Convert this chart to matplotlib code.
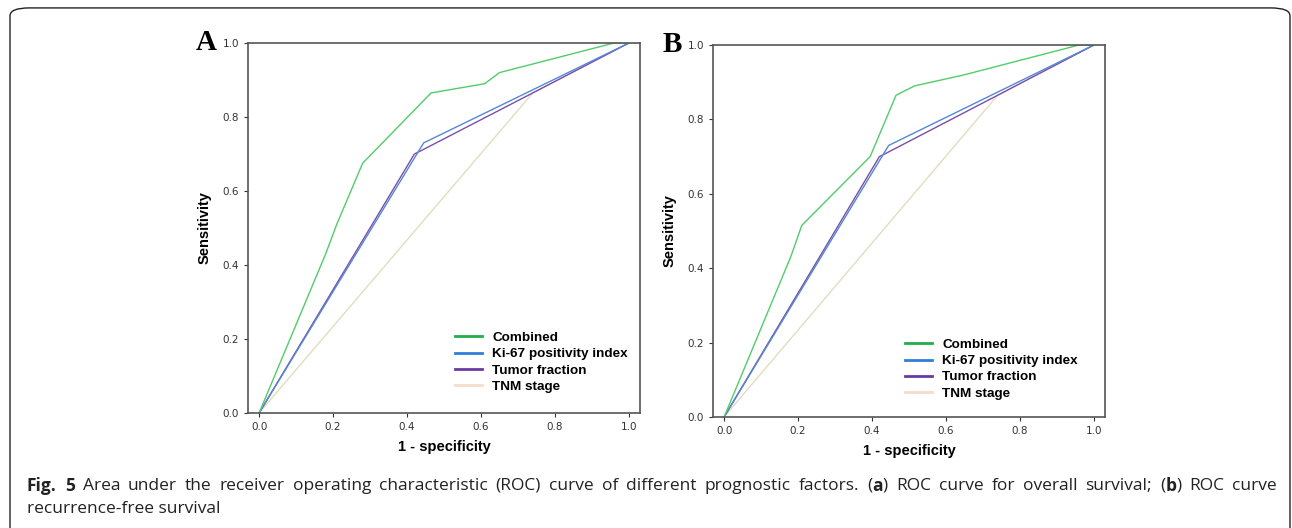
import matplotlib.pyplot as plt
from matplotlib.patches import FancyBboxPatch
from matplotlib.lines import Line2D
from matplotlib.transforms import offset_copy

# Panel A - overall survival
a_comb_x = [0.0, 0.18, 0.21, 0.28, 0.465, 0.61, 0.65, 0.96, 1.0]
a_comb_y = [0.0, 0.43, 0.51, 0.675, 0.865, 0.89, 0.92, 1.0, 1.0]
# Panel B - recurrence-free survival
b_comb_x = [0.0, 0.18, 0.21, 0.395, 0.465, 0.515, 0.65, 0.96, 1.0]
b_comb_y = [0.0, 0.43, 0.515, 0.70, 0.865, 0.89, 0.92, 1.0, 1.0]

ki67_x = [0.0, 0.445, 1.0]
ki67_y = [0.0, 0.73, 1.0]
tumor_x = [0.0, 0.42, 0.44, 0.74, 1.0]
tumor_y = [0.0, 0.70, 0.71, 0.865, 1.0]
tnm_x = [0.0, 0.74, 1.0]
tnm_y = [0.0, 0.865, 1.0]

labels = ["Combined", "Ki-67 positivity index", "Tumor fraction", "TNM stage"]
colors = ["#52cc6a", "#5288d8", "#7c4ea6", "#e4dcc0"]
legend_colors = ["#1fae4a", "#2f7fd8", "#6a3aa0", "#f6dccb"]
ticks = [0.0, 0.2, 0.4, 0.6, 0.8, 1.0]

# first caption line, word by word (bold parts joined to neighbours with no gap)
caption_words = [
    [("Fig.", "bold")], [("5", "bold")], [("Area", "normal")], [("under", "normal")],
    [("the", "normal")], [("receiver", "normal")], [("operating", "normal")],
    [("characteristic", "normal")], [("(ROC)", "normal")], [("curve", "normal")],
    [("of", "normal")], [("different", "normal")], [("prognostic", "normal")],
    [("factors.", "normal")], [("(", "normal"), ("a", "bold"), (")", "normal")],
    [("ROC", "normal")], [("curve", "normal")], [("for", "normal")],
    [("overall", "normal")], [("survival;", "normal")],
    [("(", "normal"), ("b", "bold"), (")", "normal")], [("ROC", "normal")],
    [("curve", "normal")],
]
caption_line2 = "recurrence-free survival"

fig = plt.figure(figsize=(12.92, 5.28), dpi=100)

border = FancyBboxPatch((10 / 1292, -0.05), 1280 / 1292, 1.035, transform=fig.transFigure,
                        boxstyle="round,pad=0,rounding_size=0.015", fill=False,
                        edgecolor="#222222", linewidth=1.0)
fig.patches.append(border)

panels = [
    ("A", [248 / 1292, 1 - 413 / 528, 392 / 1292, 370 / 528], a_comb_x, a_comb_y, (1.0, 0.022)),
    ("B", [713 / 1292, 1 - 417 / 528, 392 / 1292, 372 / 528], b_comb_x, b_comb_y, (0.962, 0.014)),
]

for letter, pos, cx, cy, leg_anchor in panels:
    ax = fig.add_axes(pos)
    ax.plot(tnm_x, tnm_y, color=colors[3], lw=1.0)
    ax.plot(tumor_x, tumor_y, color=colors[2], lw=1.0)
    ax.plot(ki67_x, ki67_y, color=colors[1], lw=1.0)
    ax.plot(cx, cy, color=colors[0], lw=1.0)
    ax.set_xlim(-0.03, 1.03)
    ax.set_ylim(0, 1)
    ax.set_xticks(ticks)
    ax.set_yticks(ticks)
    ax.set_xticklabels([f"{t:.1f}" for t in ticks])
    ax.set_yticklabels([f"{t:.1f}" for t in ticks])
    ax.tick_params(labelsize=7.5, colors="#333333", length=3, width=0.8)
    for s in ax.spines.values():
        s.set_color("#555555")
        s.set_linewidth(1.2)
    ax.set_xlabel("1 - specificity", fontsize=10.5, fontweight="bold", labelpad=6,
                  family="Liberation Sans")
    ax.set_ylabel("Sensitivity", fontsize=10.5, fontweight="bold", labelpad=8,
                  family="Liberation Sans")
    handles = [Line2D([0], [0], color=c, lw=2) for c in legend_colors]
    ax.legend(handles, labels, loc="lower right", frameon=False,
              prop={"weight": "bold", "size": 9.7, "family": "Liberation Sans"},
              handlelength=2.0, handletextpad=0.75, labelspacing=0.28,
              bbox_to_anchor=leg_anchor)
    ax.text(-0.08, 1.0, letter, transform=ax.transAxes, fontsize=21, fontweight="bold",
            family="Liberation Serif", ha="right", va="center")

# caption line 1, justified to the full width
renderer = fig.canvas.get_renderer()
x0, y0 = 27 / 1292, 1 - 486 / 528
line_width = 1277 - 27
cap_size = 12.5
pieces = []
words_w = 0
for word in caption_words:
    ws = []
    for txt, weight in word:
        t = fig.text(x0, y0, txt, fontsize=cap_size, family="Open Sans", weight=weight,
                     va="center", ha="left", color="#222222")
        w = t.get_window_extent(renderer).width
        ws.append((t, w))
        words_w += w
    pieces.append(ws)
gap = (line_width - words_w) / (len(pieces) - 1)
dx = 0
for ws in pieces:
    for t, w in ws:
        t.set_transform(offset_copy(fig.transFigure, fig=fig, x=dx, y=0, units="dots"))
        dx += w
    dx += gap
fig.text(x0, 1 - 509 / 528, caption_line2, color="#222222",
         fontsize=cap_size, family="Open Sans", va="center", ha="left")

fig.savefig("out.png", dpi=100)
